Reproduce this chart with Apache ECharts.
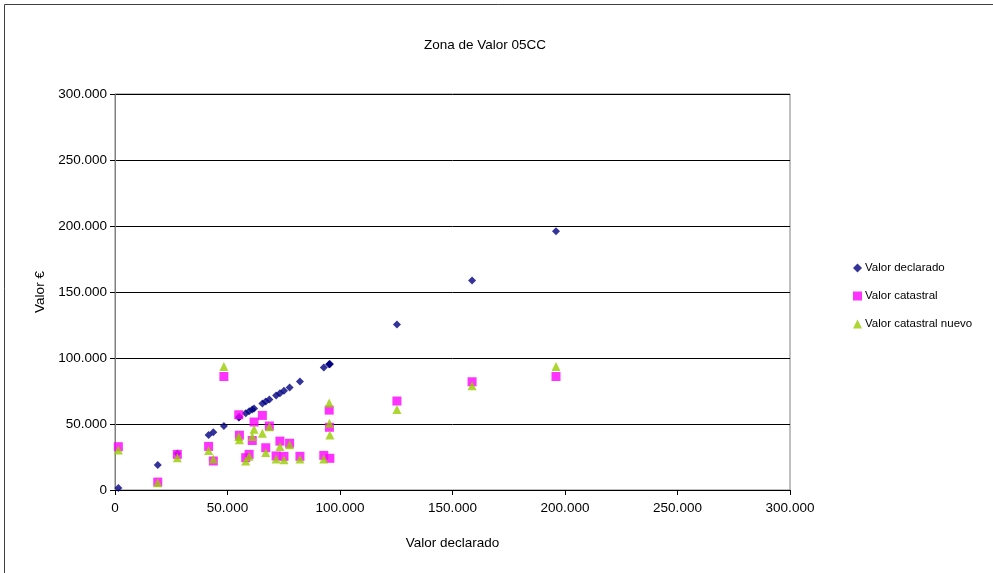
<!DOCTYPE html>
<html>
<head>
<meta charset="utf-8">
<script src="https://cdn.jsdelivr.net/npm/echarts@6/dist/echarts.min.js"></script>
<style>
html,body{margin:0;padding:0;background:#fff;}
#c{width:993px;height:573px;}
</style>
</head>
<body>
<div id="c"></div>
<script>
// Data (values in euros)
const valorDeclarado = [1500, 19000, 27700, 41600, 43700, 48400, 55000, 55300, 58100, 59600, 61000, 61800, 65500, 67000, 68600, 71600, 73300, 75100, 77600, 82200, 92800, 95200, 95300, 95500, 125300, 158700, 196000];
const valorCatastral = [32800, 6000, 27000, 33000, 22000, 86000, 57000, 41500, 24500, 27000, 37500, 51500, 56500, 32000, 48500, 25800, 37000, 25500, 35400, 25500, 26200, 60500, 47500, 24000, 67400, 82000, 86000];
const valorCatastralNuevo = [30300, 5500, 24500, 30000, 23500, 93500, 40500, 38000, 22000, 25500, 40500, 46000, 43000, 28500, 48000, 23400, 33000, 23000, 34300, 23400, 23500, 66000, 50500, 41700, 61000, 79000, 93500];
const xTicks = [0, 50000, 100000, 150000, 200000, 250000, 300000];
const yTicks = [0, 50000, 100000, 150000, 200000, 250000, 300000];

const fmt = v => String(v).replace(/\B(?=(\d{3})+(?!\d))/g, '.');
const font = 'Liberation Sans, Arial, sans-serif';

const chart = echarts.init(document.getElementById('c'), null, {renderer: 'canvas'});
chart.setOption({
  animation: false,
  backgroundColor: '#fff',
  title: {
    text: 'Zona de Valor 05CC',
    left: 480, top: 33, textAlign: 'center',
    textStyle: {fontFamily: font, fontSize: 13.5, fontWeight: 'normal', color: '#000'}
  },
  legend: {
    orient: 'vertical', left: 848, top: 257,
    itemWidth: 9, itemHeight: 9, itemGap: 16,
    textStyle: {fontFamily: font, fontSize: 11.5, color: '#000', padding: [0,0,0,-2]},
    data: [
      {name: 'Valor declarado', icon: 'diamond'},
      {name: 'Valor catastral', icon: 'rect'},
      {name: 'Valor catastral nuevo', icon: 'triangle'}
    ]
  },
  grid: {
    left: 115, right: 203, top: 94, bottom: 83,
    show: true, borderColor: '#808080', borderWidth: 1, backgroundColor: 'transparent'
  },
  xAxis: {
    type: 'value', min: xTicks[0], max: xTicks[xTicks.length-1], interval: 50000,
    name: 'Valor declarado', nameLocation: 'middle', nameGap: 46,
    nameTextStyle: {fontFamily: font, fontSize: 13.5, color: '#000'},
    axisLine: {show: true, onZero: false, lineStyle: {color: '#000', width: 1}},
    axisTick: {show: true, length: 5, lineStyle: {color: '#000'}},
    axisLabel: {fontFamily: font, fontSize: 13.5, color: '#000', margin: 11, formatter: fmt},
    splitLine: {show: false}
  },
  yAxis: {
    type: 'value', min: yTicks[0], max: yTicks[yTicks.length-1], interval: 50000,
    name: 'Valor €', nameLocation: 'middle', nameGap: 67, nameRotate: 90,
    nameTextStyle: {fontFamily: font, fontSize: 13.5, color: '#000'},
    axisLine: {show: true, onZero: false, lineStyle: {color: '#808080', width: 1}},
    axisTick: {show: true, length: 5, lineStyle: {color: '#000'}},
    axisLabel: {fontFamily: font, fontSize: 13.5, color: '#000', margin: 8, formatter: fmt},
    splitLine: {show: true, lineStyle: {color: '#000', width: 1}}
  },
  series: [
    {
      name: 'Valor declarado', type: 'scatter', symbol: 'diamond', symbolSize: [8, 8],
      itemStyle: {color: '#000080'},
      data: valorDeclarado.map(v => [v, v])
    },
    {
      name: 'Valor catastral', type: 'scatter', symbol: 'rect', symbolSize: 9,
      itemStyle: {color: '#FF00FF'},
      data: valorDeclarado.map((v, i) => [v, valorCatastral[i]])
    },
    {
      name: 'Valor catastral nuevo', type: 'scatter', symbol: 'triangle', symbolSize: 9,
      itemStyle: {color: '#99CC00'},
      data: valorDeclarado.map((v, i) => [v, valorCatastralNuevo[i]])
    }
  ],
  graphic: [
    {type: 'polyline', silent: true, shape: {points: [[4.5, 573], [4.5, 4.5], [993, 4.5]]},
     style: {stroke: '#404040', lineWidth: 1, fill: null}}
  ]
});
</script>
</body>
</html>
